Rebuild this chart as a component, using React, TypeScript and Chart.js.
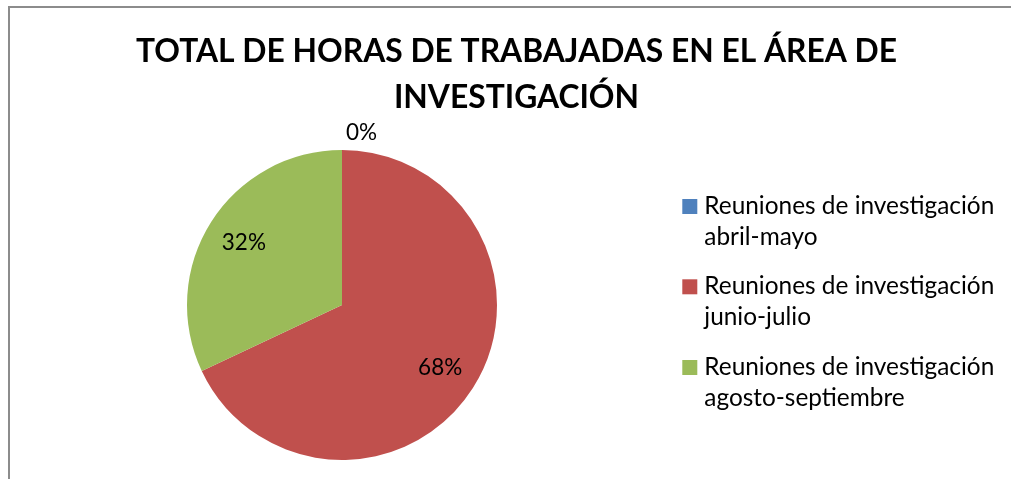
import React, { useEffect, useRef } from "react";
import { Chart, registerables } from "chart.js";

Chart.register(...registerables);

const titleLines = ["TOTAL DE HORAS DE TRABAJADAS EN EL ÁREA DE", "INVESTIGACIÓN"];
const categories = [
  ["Reuniones de investigación", "abril-mayo"],
  ["Reuniones de investigación", "junio-julio"],
  ["Reuniones de investigación", "agosto-septiembre"],
];
const values = [0, 68, 32];
const colors = ["#4F81BD", "#C0504D", "#9BBB59"];

const FONT = "Lato, 'Open Sans', sans-serif";

const decorPlugin = {
  id: "decor",
  afterDraw(chart: any) {
    const ctx = chart.ctx as CanvasRenderingContext2D;
    const W = chart.width;
    ctx.save();
    // frame
    ctx.strokeStyle = "#8C8C8C";
    ctx.lineWidth = 2;
    ctx.strokeRect(1, 1, W - 2, chart.height - 2);

    // title
    ctx.fillStyle = "#000";
    ctx.textAlign = "center";
    ctx.textBaseline = "alphabetic";
    ctx.font = `bold 31.8px ${FONT}`;
    ctx.fillText(titleLines[0], 508.5, 56);
    ctx.fillText(titleLines[1], 508.5, 101.5);

    // legend
    ctx.textAlign = "left";
    ctx.font = `24.4px ${FONT}`;
    const itemTop = [193, 273.3, 354];
    categories.forEach((lines, i) => {
      const y0 = itemTop[i];
      ctx.fillStyle = colors[i];
      ctx.fillRect(674.3, y0, 15, 15);
      ctx.fillStyle = "#000";
      lines.forEach((t, j) => ctx.fillText(t, 696.3, y0 + 15 + j * 31));
    });

    // data labels
    const meta = chart.getDatasetMeta(0);
    const total = values.reduce((a, b) => a + b, 0);
    ctx.font = `22.5px ${FONT}`;
    ctx.textBaseline = "middle";
    meta.data.forEach((arc: any, i: number) => {
      const p = arc.getProps(["x", "y", "startAngle", "endAngle", "outerRadius"], true);
      const pct = Math.round((values[i] / total) * 100) + "%";
      const mid = (p.startAngle + p.endAngle) / 2;
      ctx.fillStyle = "#000";
      if (p.endAngle - p.startAngle < 1e-6) {
        ctx.textAlign = "left";
        const r = p.outerRadius + 17;
        ctx.fillText(pct, p.x + Math.cos(mid) * r + 4, p.y + Math.sin(mid) * r);
      } else {
        ctx.textAlign = "center";
        const r = p.outerRadius * 0.75;
        ctx.fillText(pct, p.x + Math.cos(mid) * r, p.y + Math.sin(mid) * r);
      }
    });
    ctx.restore();
  },
};

export default function App() {
  const ref = useRef<HTMLCanvasElement | null>(null);
  useEffect(() => {
    if (!ref.current) return;
    const chart = new Chart(ref.current, {
      type: "pie",
      data: {
        labels: categories.map((c) => c.join(" ")),
        datasets: [
          {
            data: values,
            backgroundColor: colors,
            borderWidth: 0,
          },
        ],
      },
      options: {
        responsive: false,
        animation: false,
        layout: { padding: { left: 179, right: 527, top: 144, bottom: 26 } },
        plugins: {
          legend: { display: false },
          title: { display: false },
          tooltip: { enabled: false },
        },
      },
      plugins: [decorPlugin],
    });
    return () => chart.destroy();
  }, []);
  return (
    <div
      style={{
        position: "absolute",
        left: 8,
        top: 6,
        width: 1003,
        height: 473,
        overflow: "hidden",
        background: "#fff",
      }}
    >
      <canvas ref={ref} width={1016} height={480} style={{ display: "block" }} />
    </div>
  );
}
